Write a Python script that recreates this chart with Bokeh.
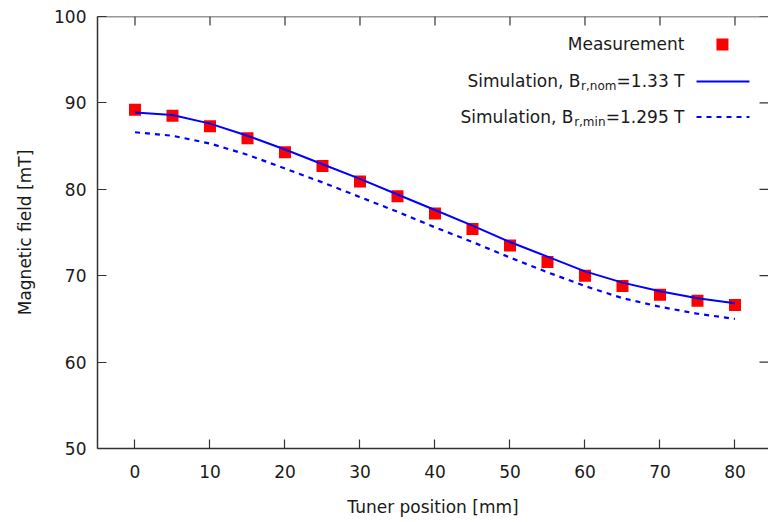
from bokeh.plotting import figure
from bokeh.models import Range1d, Label, FixedTicker, Span
from bokeh.embed import file_html
from bokeh.resources import INLINE

# ---- data ----
positions = [0, 5, 10, 15, 20, 25, 30, 35, 40, 45, 50, 55, 60, 65, 70, 75, 80]
measurement = [89.2, 88.5, 87.3, 85.9, 84.3, 82.7, 80.9, 79.2, 77.2, 75.4,
               73.5, 71.6, 70.0, 68.8, 67.8, 67.1, 66.6]
sim_nom = [88.9, 88.6, 87.6, 86.2, 84.6, 82.9, 81.2, 79.4, 77.6, 75.8,
           73.9, 72.2, 70.5, 69.2, 68.2, 67.4, 66.8]
sim_min = [86.6, 86.2, 85.3, 84.0, 82.4, 80.8, 79.1, 77.4, 75.6, 73.9,
           72.1, 70.4, 68.8, 67.4, 66.4, 65.6, 65.0]

x_ticks = [0, 10, 20, 30, 40, 50, 60, 70, 80]
y_ticks = [50, 60, 70, 80, 90, 100]

x_label = "Tuner position [mm]"
y_label = "Magnetic field [mT]"
legend_meas = "Measurement"
legend_nom = ["Simulation, B", "r,nom", "=1.33 T"]
legend_min = ["Simulation, B", "r,min", "=1.295 T"]

FONT = "DejaVu Sans"
TXT = "#1a1a1a"
AX = "#333333"
RED = "#ff0000"
BLUE = "#0000ff"

X0, X1 = -5, 84.47
Y0, Y1 = 50, 100

p = figure(width=768, height=522,
           x_range=Range1d(X0, X1), y_range=Range1d(Y0, Y1),
           output_backend="svg", toolbar_location=None,
           min_border_left=97, min_border_right=0,
           min_border_top=16, min_border_bottom=74)
p.grid.visible = False
p.outline_line_color = None
p.background_fill_color = "white"
p.border_fill_color = "white"


def style_axis(ax, ticks):
    ax.ticker = FixedTicker(ticks=ticks)
    ax.minor_tick_line_color = None
    ax.major_tick_in = 9
    ax.major_tick_out = 0
    ax.major_tick_line_color = AX
    ax.major_tick_line_width = 1.2
    ax.axis_line_color = AX
    ax.axis_line_width = 1.5
    ax.major_label_text_font = FONT
    ax.major_label_text_font_size = "17px"
    ax.major_label_text_color = TXT
    ax.axis_label_text_font = FONT
    ax.axis_label_text_font_size = "17px"
    ax.axis_label_text_font_style = "normal"
    ax.axis_label_text_color = TXT


xa = p.xaxis[0]
style_axis(xa, x_ticks)
xa.major_label_standoff = 16
xa.axis_label = x_label
xa.axis_label_standoff = 16

ya = p.yaxis[0]
style_axis(ya, y_ticks)
ya.major_label_standoff = 11
ya.axis_label = y_label
ya.axis_label_standoff = 16

# top border line and mirrored (inward) ticks on top and right
p.add_layout(Span(location=Y1, dimension="width", line_color=AX, line_width=1.5))
tick_dx = 9 / 7.5    # 9 px in data units (x)
tick_dy = 9 / 8.64   # 9 px in data units (y)
p.segment(x0=x_ticks, y0=[Y1] * len(x_ticks), x1=x_ticks,
          y1=[Y1 - tick_dy] * len(x_ticks), line_color=AX, line_width=1.2)
p.segment(x0=[X1] * len(y_ticks), y0=y_ticks, x1=[X1 - tick_dx] * len(y_ticks),
          y1=y_ticks, line_color=AX, line_width=1.2)

# ---- data marks ----
p.scatter(positions, measurement, marker="square", size=12,
          fill_color=RED, line_color=RED, line_width=0)
p.line(positions, sim_nom, line_color=BLUE, line_width=2)
p.line(positions, sim_min, line_color=BLUE, line_width=2.2, line_dash="5 5")

# ---- manual legend (gnuplot style: text then sample on the right) ----
lx = 73.27          # right end of legend texts (data x)
rows_y = [96.76, 92.48, 88.37]
sample_x0, sample_x1, sample_xm = 74.87, 81.93, 78.33


def lab(text, y, x_off=0, y_off=0, size="17px"):
    p.add_layout(Label(x=lx, y=y, x_offset=x_off, y_offset=y_off, text=text,
                       text_font=FONT, text_font_size=size, text_color=TXT,
                       text_align="right", text_baseline="middle"))


lab(legend_meas, rows_y[0])
p.scatter([sample_xm], [rows_y[0]], marker="square", size=12,
          fill_color=RED, line_color=RED, line_width=0)

# row 2
lab(legend_nom[2], rows_y[1])
lab(legend_nom[1], rows_y[1], x_off=-68, y_off=-5, size="12px")
lab(legend_nom[0], rows_y[1], x_off=-68 - 36)
p.line([sample_x0, sample_x1], [rows_y[1], rows_y[1]], line_color=BLUE, line_width=2)

# row 3
lab(legend_min[2], rows_y[2])
lab(legend_min[1], rows_y[2], x_off=-79, y_off=-5, size="12px")
lab(legend_min[0], rows_y[2], x_off=-79 - 32)
p.line([sample_x0, sample_x1], [rows_y[2], rows_y[2]], line_color=BLUE,
       line_width=2.2, line_dash="5 5")

open("out.html", "w").write(file_html(p, INLINE))
